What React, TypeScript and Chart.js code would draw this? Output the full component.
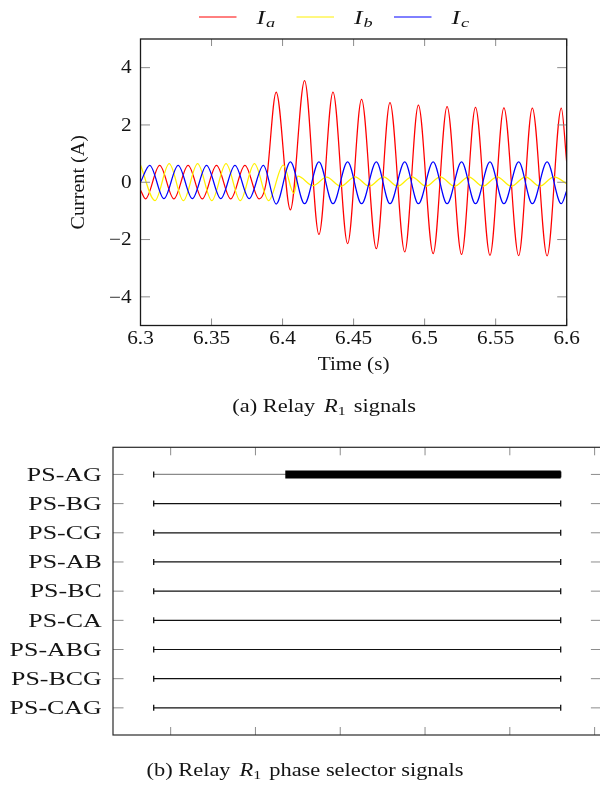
import React, { useEffect, useRef } from 'react';
import { Chart, registerables } from 'chart.js';

Chart.register(...registerables);

// ---------------- Top chart data (extrema) ----------------
const iaTime = [6.3, 6.3035, 6.3135, 6.3235, 6.3335, 6.3435, 6.3535, 6.3635, 6.3735, 6.3835, 6.3885, 6.3955, 6.4055, 6.4155, 6.4256, 6.4355, 6.4458, 6.4556, 6.466, 6.4756, 6.486, 6.4956, 6.506, 6.5158, 6.526, 6.5358, 6.546, 6.5558, 6.5662, 6.5758, 6.5862, 6.5962, 6.6];
const iaValue = [-0.27, -0.58, 0.59, -0.58, 0.59, -0.58, 0.59, -0.58, 0.59, -0.58, 0.0, 3.15, -0.96, 3.55, -1.82, 3.15, -2.14, 2.89, -2.32, 2.78, -2.43, 2.69, -2.49, 2.64, -2.52, 2.61, -2.55, 2.6, -2.56, 2.59, -2.57, 2.59, 0.7];

const ibTime = [6.3, 6.3102, 6.3202, 6.3302, 6.3402, 6.3502, 6.3602, 6.3702, 6.3802, 6.3902, 6.4005, 6.408, 6.4108, 6.4215, 6.431, 6.441, 6.451, 6.461, 6.471, 6.481, 6.491, 6.501, 6.511, 6.521, 6.531, 6.541, 6.551, 6.561, 6.571, 6.581, 6.591, 6.6];
const ibValue = [0.6, -0.64, 0.65, -0.64, 0.65, -0.64, 0.65, -0.64, 0.65, -0.64, 0.6, -0.39, 0.21, -0.12, 0.18, -0.14, 0.19, -0.14, 0.19, -0.14, 0.19, -0.14, 0.19, -0.14, 0.19, -0.14, 0.19, -0.14, 0.19, -0.14, 0.19, -0.05];

const icTime = [6.3, 6.3065, 6.3165, 6.3265, 6.3365, 6.3465, 6.3565, 6.3665, 6.3765, 6.3865, 6.3955, 6.4055, 6.4155, 6.4256, 6.4355, 6.4458, 6.4556, 6.466, 6.4756, 6.486, 6.4956, 6.506, 6.5158, 6.526, 6.5358, 6.546, 6.5558, 6.5662, 6.5758, 6.5862, 6.5962, 6.6];
const icValue = [0.0, 0.59, -0.57, 0.59, -0.57, 0.59, -0.57, 0.59, -0.57, 0.59, -0.76, 0.71, -0.75, 0.71, -0.75, 0.71, -0.75, 0.71, -0.75, 0.71, -0.75, 0.71, -0.75, 0.71, -0.75, 0.71, -0.75, 0.71, -0.75, 0.71, -0.75, -0.3];

const seriesSubscripts = ['a', 'b', 'c'];
const seriesColors = ['#ff0000', '#fff000', '#0000ff'];

const xTickValues = [6.3, 6.35, 6.4, 6.45, 6.5, 6.55, 6.6];
const xTickLabels = ['6.3', '6.35', '6.4', '6.45', '6.5', '6.55', '6.6'];
const yTickValues = [-4, -2, 0, 2, 4];
const yTickLabels = ['\u22124', '\u22122', '0', '2', '4'];

// ---------------- Bottom chart data ----------------
const psCategories = ['PS-AG', 'PS-BG', 'PS-CG', 'PS-AB', 'PS-BC', 'PS-CA', 'PS-ABG', 'PS-BCG', 'PS-CAG'];
const psStart = [6.3, 6.3, 6.3, 6.3, 6.3, 6.3, 6.3, 6.3, 6.3];
const psEnd = [6.6, 6.6, 6.6, 6.6, 6.6, 6.6, 6.6, 6.6, 6.6];
const psActiveStart = [6.397, null, null, null, null, null, null, null, null];
const psActiveEnd = [6.6, null, null, null, null, null, null, null, null];
const psTickValues = [6.3125, 6.375, 6.4375, 6.5, 6.5625, 6.625];

// ---------------- drawing helpers ----------------
const SERIF = '"Liberation Serif", "Times New Roman", Times, serif';
const INK = '#141414';

function textAt(ctx: CanvasRenderingContext2D, text: string, x: number, y: number, font: string, sx: number, align: string) {
  ctx.save();
  ctx.font = font;
  ctx.textAlign = 'left';
  ctx.textBaseline = 'alphabetic';
  const w = ctx.measureText(text).width * sx;
  const x0 = align === 'center' ? x - w / 2 : align === 'right' ? x - w : x;
  ctx.translate(x0, y);
  ctx.scale(sx, 1);
  ctx.fillText(text, 0, 0);
  ctx.restore();
}

type Run = { text: string; font: string; dy?: number; gap?: number };
function runsAt(ctx: CanvasRenderingContext2D, runs: Run[], x: number, y: number, sx: number, align: string) {
  ctx.save();
  ctx.textAlign = 'left';
  ctx.textBaseline = 'alphabetic';
  const widths = runs.map((r) => {
    ctx.font = r.font;
    return ctx.measureText(r.text).width * sx + (r.gap || 0);
  });
  const total = widths.reduce((a, b) => a + b, 0);
  let cx = align === 'center' ? x - total / 2 : align === 'right' ? x - total : x;
  runs.forEach((r, i) => {
    ctx.font = r.font;
    ctx.save();
    ctx.translate(cx, y + (r.dy || 0));
    ctx.scale(sx, 1);
    ctx.fillText(r.text, 0, 0);
    ctx.restore();
    cx += widths[i];
  });
  ctx.restore();
}

function line(ctx: CanvasRenderingContext2D, x1: number, y1: number, x2: number, y2: number) {
  ctx.beginPath();
  ctx.moveTo(x1, y1);
  ctx.lineTo(x2, y2);
  ctx.stroke();
}

const topDecor = {
  id: 'topDecor',
  afterDraw(chart: any) {
    const { ctx, chartArea: a, scales } = chart;
    const xs = scales.x;
    const ys = scales.y;
    ctx.save();
    ctx.strokeStyle = '#8c8c8c';
    ctx.lineWidth = 1;
    xTickValues.forEach((v) => {
      const px = xs.getPixelForValue(v);
      line(ctx, px, a.bottom, px, a.bottom - 7);
      line(ctx, px, a.top, px, a.top + 7);
    });
    yTickValues.forEach((v) => {
      const py = ys.getPixelForValue(v);
      line(ctx, a.left, py, a.left + 9.5, py);
      line(ctx, a.right, py, a.right - 9.5, py);
    });
    ctx.strokeStyle = '#1a1a1a';
    ctx.lineWidth = 1.3;
    ctx.strokeRect(a.left, a.top, a.right - a.left, a.bottom - a.top);

    ctx.fillStyle = INK;
    const f18 = `18px ${SERIF}`;
    xTickValues.forEach((v, i) => {
      textAt(ctx, xTickLabels[i], xs.getPixelForValue(v), 344.3, f18, 1.18, 'center');
    });
    yTickValues.forEach((v, i) => {
      textAt(ctx, yTickLabels[i], 131.7, ys.getPixelForValue(v) + 5.8, f18, 1.18, 'right');
    });
    textAt(ctx, 'Time (s)', (a.left + a.right) / 2, 370, f18, 1.18, 'center');
    ctx.save();
    ctx.translate(84, (a.top + a.bottom) / 2);
    ctx.rotate(-Math.PI / 2);
    textAt(ctx, 'Current (A)', 0, 0, f18, 1.12, 'center');
    ctx.restore();

    const legendX = 199;
    const spacing = 97.5;
    seriesSubscripts.forEach((s, i) => {
      const x0 = legendX + i * spacing;
      ctx.strokeStyle = seriesColors[i];
      ctx.lineWidth = 1;
      line(ctx, x0, 17, x0 + 37.5, 17);
      ctx.fillStyle = INK;
      runsAt(
        ctx,
        [
          { text: 'I', font: `italic 19px ${SERIF}`, gap: 1 },
          { text: s, font: `italic 13.5px ${SERIF}`, dy: 3 },
        ],
        x0 + 57.5,
        23.5,
        1.35,
        'left'
      );
    });

    const fc = `19px ${SERIF}`;
    runsAt(
      ctx,
      [
        { text: '(a) Relay', font: fc, gap: 9 },
        { text: 'R', font: `italic ${fc}` },
        { text: '1', font: `13.5px ${SERIF}`, dy: 3, gap: 8 },
        { text: 'signals', font: fc },
      ],
      324.2,
      412.3,
      1.18,
      'center'
    );
    ctx.restore();
  },
};

const bottomDecor = {
  id: 'bottomDecor',
  afterDraw(chart: any) {
    const { ctx, chartArea: a, scales } = chart;
    const xs = scales.x;
    const ys = scales.y;
    ctx.save();
    ctx.strokeStyle = '#8c8c8c';
    ctx.lineWidth = 1;
    psTickValues.forEach((v) => {
      const px = xs.getPixelForValue(v);
      line(ctx, px, a.top, px, a.top + 8);
      line(ctx, px, a.bottom, px, a.bottom - 8);
    });
    psCategories.forEach((_, i) => {
      const py = ys.getPixelForValue(i + 1);
      line(ctx, a.left, py, a.left + 10.5, py);
      line(ctx, a.right, py, a.right - 10.5, py);
    });
    ctx.strokeStyle = '#2a2a2a';
    ctx.lineWidth = 1.2;
    ctx.strokeRect(a.left, a.top, a.right - a.left, a.bottom - a.top);

    ctx.fillStyle = INK;
    psCategories.forEach((c, i) => {
      const py = ys.getPixelForValue(i + 1);
      textAt(ctx, c, 101.7, py + 6.3, `18.5px ${SERIF}`, 1.4, 'right');
    });

    const fc = `19px ${SERIF}`;
    runsAt(
      ctx,
      [
        { text: '(b) Relay', font: fc, gap: 9 },
        { text: 'R', font: `italic ${fc}` },
        { text: '1', font: `13.5px ${SERIF}`, dy: 3, gap: 8 },
        { text: 'phase selector signals', font: fc },
      ],
      305,
      350.7,
      1.18,
      'center'
    );
    ctx.restore();
  },
};

function toPoints(t: number[], v: number[]) {
  return t.map((x, i) => ({ x, y: v[i] }));
}

export default function App() {
  const topRef = useRef<HTMLCanvasElement | null>(null);
  const botRef = useRef<HTMLCanvasElement | null>(null);

  useEffect(() => {
    const series = [
      { t: iaTime, v: iaValue },
      { t: ibTime, v: ibValue },
      { t: icTime, v: icValue },
    ];
    const top = new Chart(topRef.current as HTMLCanvasElement, {
      type: 'line',
      data: {
        datasets: series.map((s, i) => ({
          label: 'I' + seriesSubscripts[i],
          data: toPoints(s.t, s.v),
          borderColor: seriesColors[i],
          backgroundColor: seriesColors[i],
          borderWidth: 1.25,
          pointRadius: 0,
          cubicInterpolationMode: 'monotone' as const,
          fill: false,
          order: 3 - i,
        })),
      },
      options: {
        responsive: false,
        maintainAspectRatio: false,
        animation: false,
        layout: { autoPadding: false, padding: { left: 140.5, right: 600 - 566.7, top: 39, bottom: 425 - 325.5 } },
        plugins: { legend: { display: false }, title: { display: false }, tooltip: { enabled: false } },
        events: [],
        scales: {
          x: { type: 'linear', min: 6.3, max: 6.6, display: false },
          y: { type: 'linear', min: -5, max: 5, display: false },
        },
      },
      plugins: [topDecor],
    } as any);

    const psDatasets: any[] = [];
    psCategories.forEach((c, i) => {
      if (psActiveStart[i] !== null) {
        psDatasets.push({
          label: c + ' active',
          data: [
            { x: psActiveStart[i], y: i + 1 },
            { x: psActiveEnd[i], y: i + 1 },
          ],
          borderColor: '#000000',
          borderWidth: 8,
          borderCapStyle: 'butt',
          pointRadius: 0,
          order: 0,
        });
      }
      psDatasets.push({
        label: c,
        data: [
          { x: psStart[i], y: i + 1 },
          { x: psEnd[i], y: i + 1 },
        ],
        borderColor: psActiveStart[i] !== null ? '#8a8a8a' : '#111111',
        borderWidth: 1.2,
        pointStyle: 'line',
        pointRotation: 90,
        pointRadius: 3,
        pointBorderWidth: 1.3,
        pointBorderColor: '#111111',
        pointBackgroundColor: '#111111',
        order: 1,
      });
    });

    const bot = new Chart(botRef.current as HTMLCanvasElement, {
      type: 'line',
      data: { datasets: psDatasets },
      options: {
        responsive: false,
        maintainAspectRatio: false,
        animation: false,
        layout: { autoPadding: false, padding: { left: 113, right: 602 - 601.4, top: 447.3 - 425, bottom: 362 - (735 - 425) } },
        plugins: { legend: { display: false }, title: { display: false }, tooltip: { enabled: false } },
        events: [],
        scales: {
          x: { type: 'linear', min: 6.27, max: 6.63, display: false },
          y: { type: 'linear', min: 0.07, max: 9.93, reverse: true, display: false },
        },
      },
      plugins: [bottomDecor],
    } as any);

    return () => {
      top.destroy();
      bot.destroy();
    };
  }, []);

  return (
    <div style={{ position: 'absolute', left: 0, top: 0, width: 600, height: 787, overflow: 'hidden', background: '#ffffff' }}>
      <canvas ref={topRef} width={600} height={425} style={{ position: 'absolute', left: 0, top: 0 }} />
      <canvas ref={botRef} width={602} height={362} style={{ position: 'absolute', left: 0, top: 425 }} />
    </div>
  );
}
